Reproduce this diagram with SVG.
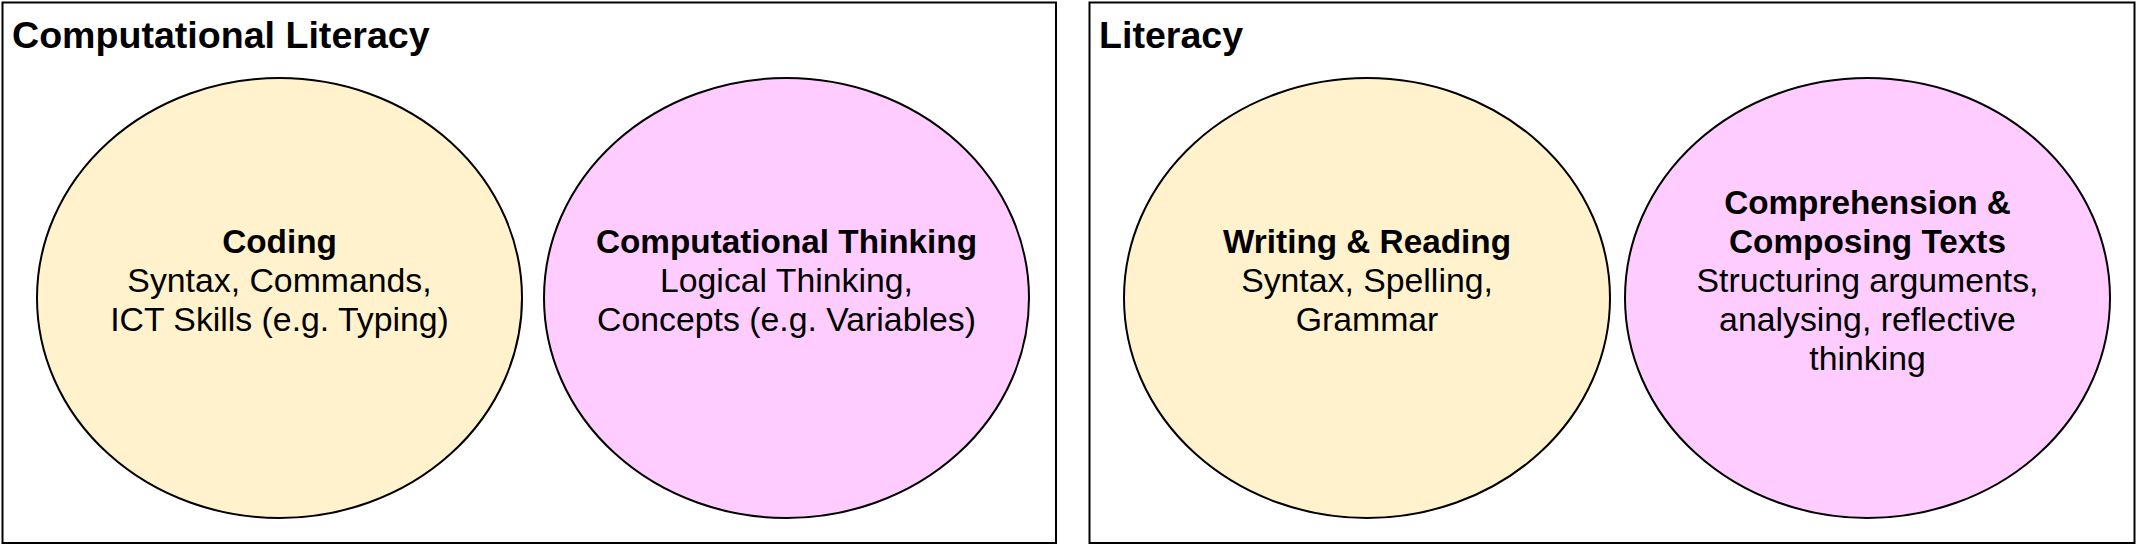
<svg xmlns="http://www.w3.org/2000/svg" width="2137" height="545" viewBox="0 0 2137 545">
<style>
.frame{fill:#ffffff;stroke:#000000;stroke-width:2}
.ell{stroke:#000000;stroke-width:2}
.yellow{fill:#fff2cc}
.pink{fill:#ffccff}
text{font-family:"Liberation Sans",Arial,Helvetica,sans-serif;fill:#000000}
.title{font-size:37.6px;font-weight:bold}
.lbl{font-size:33.8px;text-anchor:middle}
.b{font-weight:bold;font-size:33.3px}
</style>
<rect width="2137" height="545" fill="#ffffff"/>
<g id="computational-literacy">
<rect class="frame" x="2.5" y="2.5" width="1053.5" height="540.5"/>
<text class="title" x="12" y="48">Computational Literacy</text>
</g>
<g id="literacy">
<rect class="frame" x="1089.5" y="2.5" width="1045" height="540.5"/>
<text class="title" x="1099" y="48">Literacy</text>
</g>
<g id="coding">
<ellipse class="ell yellow" cx="279.5" cy="298" rx="242.5" ry="220"/>
<text class="lbl" x="279.5" y="253"><tspan class="b">Coding</tspan><tspan x="279.5" y="292">Syntax, Commands,</tspan><tspan x="279.5" y="331">ICT Skills (e.g. Typing)</tspan></text>
</g>
<g id="computational-thinking">
<ellipse class="ell pink" cx="786.5" cy="298" rx="242.5" ry="220"/>
<text class="lbl" x="786.5" y="253"><tspan class="b">Computational Thinking</tspan><tspan x="786.5" y="292">Logical Thinking,</tspan><tspan x="786.5" y="331">Concepts (e.g. Variables)</tspan></text>
</g>
<g id="writing-reading">
<ellipse class="ell yellow" cx="1367" cy="298" rx="243" ry="220"/>
<text class="lbl" x="1367" y="253"><tspan class="b">Writing &amp; Reading</tspan><tspan x="1367" y="292">Syntax, Spelling,</tspan><tspan x="1367" y="331">Grammar</tspan></text>
</g>
<g id="comprehension">
<ellipse class="ell pink" cx="1867.5" cy="298" rx="242.5" ry="220"/>
<text class="lbl" x="1867.5" y="214"><tspan class="b">Comprehension &amp;</tspan><tspan class="b" x="1867.5" y="253">Composing Texts</tspan><tspan x="1867.5" y="292">Structuring arguments,</tspan><tspan x="1867.5" y="331">analysing, reflective</tspan><tspan x="1867.5" y="370">thinking</tspan></text>
</g>
<g id="connectors"></g>
</svg>
